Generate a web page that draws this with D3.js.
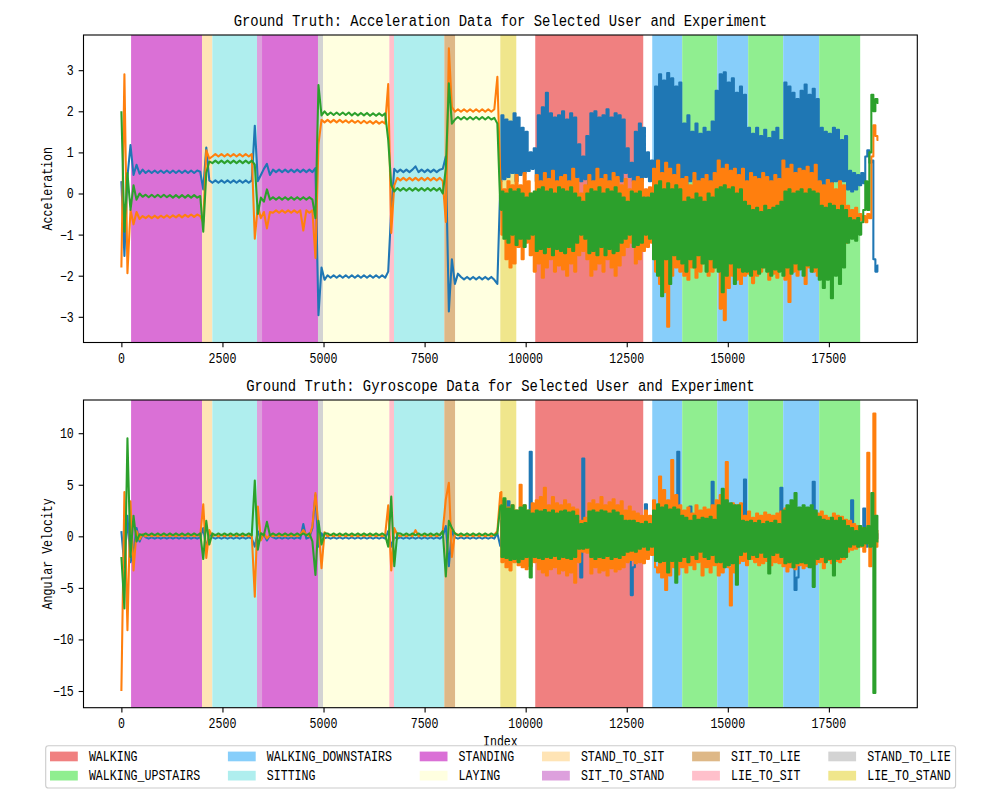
<!DOCTYPE html>
<html><head><meta charset="utf-8">
<script src="https://cdn.jsdelivr.net/npm/d3@7"></script>
<style>body{margin:0;background:#fff}</style>
</head><body><svg id="c" width="1000" height="800"></svg>
<script>
// quiet part (index 0..9300) sampled every QSTEP; active part from NOISY_START every NSTEP
const QSTEP = 75, NOISY_START = 9375, NSTEP = 50;

const accXQuiet = [0.3,-1.52,0.4,1.18,0.45,0.7,0.48,0.58,0.5,0.56,
 0.5,0.56,0.5,0.56,0.5,0.56,0.5,0.56,0.5,0.56,
 0.5,0.56,0.5,0.56,0.5,0.56,0.53,0.1,1.12,0.32,
 0.26,0.32,0.26,0.32,0.26,0.32,0.26,0.32,0.26,0.32,
 0.26,0.32,0.26,0.32,1.65,0.3,0.45,0.6,0.72,0.45,
 0.58,0.52,0.58,0.52,0.58,0.52,0.58,0.52,0.58,0.52,
 0.58,0.52,0.58,0.52,0.62,-2.96,-1.8,-2.1,-1.99,-2.05,
 -1.99,-2.05,-1.99,-2.05,-1.99,-2.05,-1.99,-2.05,-1.99,-2.05,
 -1.99,-2.05,-1.99,-2.05,-1.99,-2.05,-1.99,-2.05,-1.9,-0.4,
 0.6,0.52,0.58,0.52,0.58,0.52,0.58,0.66,0.52,0.58,
 0.52,0.58,0.52,0.58,0.52,0.58,0.6,0.9,-2.87,-1.6,
 -2.2,-1.95,-2.03,-2.09,-2.03,-2.09,-2.03,-2.09,-2.03,-2.09,
 -2.03,-2.09,-2.03,-2.1,-2.2];
const accXActive = [0.3,1.9,0.35,1.8,0.4,1.75,0.5,1.95,0.3,1.85,
 0.45,1.6,0.5,1.5,0.55,1.0,0.6,1.1,0.3,1.9,
 0.25,2.1,0.2,2.45,0.3,1.95,0.2,1.85,0.3,1.9,
 0.15,2.0,0.3,1.8,0.2,1.95,0.25,1.85,0.4,1.2,
 0.3,0.9,0.35,1.4,0.2,1.95,0.25,2.0,0.35,1.85,
 0.15,1.9,0.3,2.05,0.25,1.85,0.2,1.95,0.35,1.9,
 0.3,1.8,0.5,1.1,0.4,0.75,0.3,1.5,0.25,1.7,
 0.3,1.6,0.4,1.0,0.3,0.8,0.0,2.6,0.1,2.9,
 0.2,2.75,0.05,2.93,0.15,2.8,0.1,2.6,0.2,2.7,
 0.3,1.7,0.2,1.9,0.3,1.5,0.35,1.7,0.2,1.45,
 0.3,1.6,0.25,1.5,0.3,1.75,0.2,2.5,0.05,2.9,
 0.2,2.95,0.1,2.7,0.15,2.8,0.2,2.45,0.1,2.6,
 0.3,2.4,0.2,1.6,0.35,1.45,0.25,1.6,0.3,1.4,
 0.2,1.55,0.3,1.35,0.25,1.5,0.2,1.6,0.1,1.3,
 0.05,2.7,0.2,2.6,0.1,2.45,0.15,2.3,0.2,2.5,
 0.1,2.65,0.15,2.4,0.2,2.55,0.1,2.3,0.3,1.6,
 0.2,1.5,0.35,1.45,0.25,1.6,0.3,1.55,0.2,1.3,
 0.3,1.4,0.1,0.55,0.05,0.5,0.1,0.45,0.2,0.5,
 0.25,0.9,1.05,0.75,0.8,-1.6,-1.9,-1.75];

const accYQuiet = [-1.8,2.9,-1.94,-0.4,-0.75,-0.45,-0.62,-0.55,-0.6,-0.54,
 -0.6,-0.54,-0.6,-0.54,-0.59,-0.53,-0.59,-0.53,-0.58,-0.52,
 -0.58,-0.52,-0.57,-0.51,-0.57,-0.51,-0.55,-0.7,1.05,0.85,
 0.9,0.96,0.9,0.96,0.9,0.96,0.9,0.96,0.9,0.96,
 0.9,0.96,0.9,0.96,-1.1,-0.3,-0.6,-0.45,-0.85,-0.45,
 -0.47,-0.41,-0.47,-0.41,-0.47,-0.41,-0.47,-0.41,-0.47,-0.41,
 -0.9,-0.41,-0.47,-0.41,-1.57,1.2,1.79,1.73,1.79,1.73,
 1.79,1.73,1.79,1.73,1.78,1.72,1.78,1.72,1.77,1.71,
 1.77,1.71,1.76,1.7,1.76,1.7,1.75,1.7,2.66,-0.96,
 0.2,0.38,0.32,0.38,0.32,0.38,0.32,0.38,0.32,0.38,
 0.32,0.38,0.32,0.38,0.32,0.38,0.3,-0.69,3.53,2.1,
 1.99,2.05,1.99,2.05,1.99,2.05,1.99,2.05,1.99,2.05,
 1.99,2.05,1.99,2.05,2.84];
const accYActive = [0.3,-1.0,0.1,-1.6,0.3,-1.8,0.2,-1.7,0.45,-1.3,
 0.2,-1.6,0.5,-1.2,0.3,-1.5,0.0,-1.9,0.45,-1.7,
 0.3,-2.05,0.5,-1.8,0.35,-1.6,0.55,-1.9,0.3,-1.75,
 0.4,-1.85,0.45,-2.0,0.3,-1.7,0.6,-1.9,0.35,-1.5,
 0.0,-1.4,0.2,-1.6,0.45,-2.0,0.3,-1.85,0.6,-1.7,
 0.35,-1.9,0.45,-1.6,0.3,-1.8,0.5,-2.0,0.4,-1.75,
 0.2,-1.5,0.35,-1.3,0.1,-1.2,0.3,-1.7,0.4,-1.6,
 0.35,-1.4,0.1,-1.3,0.15,-1.2,0.6,-1.9,0.8,-2.2,
 0.5,-2.4,0.75,-3.24,0.6,-2.0,0.45,-1.8,0.7,-1.9,
 0.35,-2.0,0.4,-2.1,0.2,-1.8,0.5,-2.05,0.3,-1.9,
 0.35,-1.7,0.45,-2.0,0.3,-1.9,0.5,-1.8,0.8,-2.8,
 0.6,-3.08,0.7,-2.3,0.55,-2.0,0.6,-2.1,0.45,-2.2,
 0.6,-2.0,0.3,-1.95,0.5,-2.18,0.4,-2.0,0.35,-1.9,
 0.5,-1.8,0.4,-2.1,0.3,-1.95,0.45,-2.05,0.35,-1.8,
 0.8,-2.1,0.6,-2.64,0.7,-1.9,0.5,-2.0,0.6,-1.7,
 0.55,-2.2,0.65,-1.8,0.5,-1.9,0.7,-2.0,0.3,-1.4,
 0.2,-1.2,0.33,-1.3,0.25,-1.5,0.1,-1.1,0.3,-1.35,
 0.2,-1.2,-0.3,-0.8,-0.4,-0.9,-0.35,-0.85,-0.5,-0.65,
 -0.55,-0.7,-0.5,-0.6,0.9,1.66,1.4,1.3];

const accZQuiet = [2.0,-0.93,0.5,-0.4,0.2,-0.15,0.0,-0.08,-0.03,-0.09,
 -0.03,-0.09,-0.03,-0.09,-0.03,-0.09,-0.04,-0.1,-0.04,-0.1,
 -0.04,-0.1,-0.04,-0.1,-0.04,-0.1,-0.06,-0.93,0.5,0.78,
 0.74,0.8,0.74,0.8,0.74,0.8,0.74,0.8,0.74,0.8,
 0.74,0.8,0.74,0.8,0.7,-0.5,-0.1,-0.2,0.1,-0.15,
 -0.09,-0.15,-0.09,-0.15,-0.09,-0.15,-0.09,-0.15,-0.09,-0.15,
 -0.09,-0.15,-0.09,-0.15,-0.6,2.64,1.9,2.0,1.91,1.97,
 1.91,1.97,1.91,1.97,1.91,1.97,1.9,1.96,1.9,1.96,
 1.9,1.96,1.89,1.95,1.89,1.95,1.89,1.95,1.3,0.2,
 0.05,0.13,0.07,0.13,0.07,0.13,0.07,0.13,0.07,0.13,
 0.07,0.13,0.07,0.13,0.07,0.13,0.0,0.6,2.68,1.7,
 1.8,1.86,1.8,1.86,1.8,1.86,1.8,1.86,1.8,1.86,
 1.8,1.86,1.8,1.84,1.7];
const accZActive = [-0.4,0.05,-1.1,0.0,-1.2,0.1,-1.0,0.05,-1.25,0.1,
 -1.1,0.0,-1.3,-0.1,-1.1,0.0,-1.0,0.05,-1.4,0.1,
 -1.35,0.15,-1.45,0.05,-1.3,0.1,-1.5,0.0,-1.35,0.15,
 -1.4,0.1,-1.45,0.05,-1.3,0.15,-1.4,0.0,-1.2,-0.1,
 -1.0,-0.2,-1.1,0.0,-1.45,0.1,-1.4,0.05,-1.5,0.15,
 -1.3,0.0,-1.5,0.1,-1.35,0.05,-1.45,0.15,-1.4,0.0,
 -1.2,-0.1,-1.1,-0.2,-1.0,0.05,-1.3,0.0,-1.25,0.05,
 -1.2,-0.1,-1.0,-0.1,-1.1,0.0,-1.6,0.2,-2.0,0.3,
 -2.5,0.1,-1.6,0.25,-2.2,0.1,-1.5,0.2,-1.6,0.1,
 -1.7,-0.2,-1.9,-0.1,-1.6,-0.15,-1.8,0.0,-1.5,-0.1,
 -1.7,-0.2,-1.9,0.0,-1.6,-0.1,-1.8,0.1,-1.9,0.15,
 -2.4,0.2,-2.0,0.1,-1.7,0.15,-2.2,0.0,-1.8,0.1,
 -1.9,-0.2,-1.9,-0.3,-2.0,-0.4,-1.85,-0.35,-1.95,-0.45,
 -1.8,-0.3,-1.9,-0.4,-2.0,-0.35,-1.85,-0.3,-1.9,-0.2,
 -2.0,0.05,-1.8,0.1,-1.95,0.0,-1.7,0.05,-1.85,0.1,
 -2.0,0.0,-1.75,0.1,-1.9,0.05,-1.8,0.0,-2.1,-0.3,
 -2.3,-0.35,-2.1,-0.25,-2.55,-0.3,-2.0,-0.4,-2.2,-0.3,
 -1.8,-0.4,-1.2,-0.6,-1.1,-0.65,-1.15,-0.6,-1.0,-0.7,
 -0.4,0.3,-0.4,1.0,2.4,2.0,2.3,2.2];

const gyroXQuiet = [0.5,-3,2,-2.5,-1.5,0.8,-0.5,0.2,-0.1,-0.22,
 -0.1,-0.22,-0.1,-0.22,-0.1,-0.22,-0.1,-0.22,-0.1,-0.22,
 -0.1,-0.22,-0.1,-0.22,-0.1,-0.22,-0.1,0.8,-1.2,0.3,
 -0.1,-0.22,-0.1,-0.22,-0.1,-0.22,-0.1,-0.22,-0.1,-0.22,
 -0.1,-0.22,-0.1,-0.22,-1.0,0.5,-0.3,0.2,-0.4,0.1,
 -0.1,-0.22,-0.1,-0.22,-0.1,-0.22,-0.1,-0.22,-0.1,-0.22,
 1.2,-0.22,-0.1,0.8,4.0,-1.0,0.3,-0.2,-0.1,-0.22,
 -0.1,-0.22,-0.1,-0.22,-0.1,-0.22,-0.1,-0.22,-0.1,-0.22,
 -0.1,-0.22,-0.1,-0.22,-0.1,-0.22,-0.1,-0.22,0.5,-1.0,
 -0.1,-0.22,-0.1,-0.22,-0.1,-0.22,-0.1,-0.22,-0.1,-0.22,
 -0.1,-0.22,-0.1,-0.22,-0.1,-0.22,0.0,1.0,-2.9,0.5,
 -0.1,-0.22,-0.1,-0.22,-0.1,-0.22,-0.1,-0.22,-0.1,-0.22,
 -0.1,-0.22,-0.1,-0.22,0.3];
const gyroXActive = [-1.0,1.5,-1.5,2.0,3.4,-1.2,1.5,-1.5,1.2,-1.2,
 1.4,-1.6,1.2,-1.5,1.0,8.2,-1.5,1.5,-1.8,1.6,
 -1.7,1.8,-1.6,1.5,-1.8,1.7,-1.5,1.6,-1.7,1.5,
 -1.6,1.4,-1.8,1.6,-1.5,1.7,-1.6,1.5,-1.4,1.2,
 -4.0,7.55,-1.0,1.0,-1.5,1.5,-1.6,1.8,-1.7,1.5,
 -1.8,1.6,-1.5,1.7,-1.6,1.5,-1.8,1.4,-1.5,1.6,
 -1.5,1.4,-1.2,1.0,-2.0,-5.7,-3.0,1.0,-1.0,1.2,
 -1.0,1.5,3.1,-1.0,1.2,-1.5,2.0,-2.0,1.8,-2.0,
 2.2,-2.5,1.8,-2.0,2.0,-2.2,1.5,-3.0,8.2,-1.8,
 1.5,-1.8,1.5,-1.5,2.9,-1.5,1.5,-1.8,1.6,-1.5,
 1.8,-1.5,1.6,-1.4,1.8,5.3,-1.5,1.8,-2.0,2.0,
 -2.2,2.0,-2.5,1.8,-2.0,2.2,-1.8,2.0,-2.0,1.8,
 -1.5,5.5,-1.5,1.2,-1.5,1.4,-1.6,1.2,-1.8,1.5,
 -1.5,1.2,-1.6,1.4,-1.5,1.3,-1.4,1.5,-1.2,4.7,
 -1.5,1.8,-2.0,1.5,-2.2,1.6,-5.2,-4.0,1.8,-2.0,
 1.5,-1.8,2.0,-1.6,1.8,5.3,-1.5,1.5,-1.8,1.2,
 -1.5,1.6,-1.4,1.5,-1.5,1.2,-1.3,1.4,-1.2,1.0,
 -1.0,0.8,-0.8,1.0,3.5,-0.8,0.8,-0.5,0.6,-0.4,
 2.7,-1.0,0.5,0.0,0.3,0.2,-0.2,0.2];

const gyroYQuiet = [-15,4.3,-9.1,3.4,-3.3,0.5,-0.3,0.2,0.0,0.15,
 0.0,0.15,0.0,0.15,0.0,0.15,0.0,0.15,0.0,0.15,
 0.0,0.15,0.0,0.15,0.0,0.15,0.0,3.1,-2.1,0.6,
 0.0,0.15,0.0,0.15,0.0,0.15,0.0,0.15,0.0,0.15,
 0.0,0.15,0.0,0.15,-5.85,2.9,-0.4,0.3,-0.2,0.15,
 0.0,0.15,0.0,0.15,0.0,0.15,0.0,0.15,0.0,0.15,
 0.6,0.15,0.0,1.0,4.2,1.0,-3.1,0.4,0.0,0.15,
 0.0,0.15,0.0,0.15,0.0,0.15,0.0,0.15,0.0,0.15,
 0.0,0.15,0.0,0.15,0.0,0.15,0.0,0.15,3.0,-3.3,
 0.8,0.15,0.0,0.15,0.0,0.15,0.0,0.6,0.0,0.15,
 0.0,0.15,0.0,0.15,0.0,0.15,0.5,3.6,5.2,-2.0,
 0.3,0.15,0.0,0.15,0.0,0.15,0.0,0.15,0.0,0.15,
 0.0,0.15,0.0,0.15,0.5];
const gyroYActive = [4.3,-2.5,3.5,-3.0,2.8,-3.3,3.0,-2.5,2.5,-2.8,
 5.0,-3.0,3.0,-3.2,2.5,-2.9,3.2,-2.5,3.5,-3.2,
 3.8,-3.5,4.7,-3.8,3.0,-3.2,3.8,-3.0,3.2,-3.6,
 3.0,-3.3,3.5,-3.8,3.1,-3.5,2.8,-4.5,2.6,-2.5,
 1.5,-1.5,1.8,-1.6,3.2,-3.6,3.5,-3.0,3.1,-3.5,
 3.8,-3.3,3.0,-3.8,3.3,-3.1,3.6,-3.4,3.0,-3.2,
 3.4,-3.0,2.5,-2.5,2.9,-2.3,2.4,-2.6,2.2,-2.5,
 2.0,-2.6,2.5,-2.2,2.0,-1.8,3.5,-3.0,-3.5,5.8,
 -4.0,4.5,-5.2,3.5,-3.8,7.4,-3.0,4.0,-3.7,3.0,
 -3.0,2.5,-3.5,2.8,-2.8,2.2,-3.2,3.0,-2.5,2.5,
 -3.8,2.8,-3.0,2.6,-3.5,3.0,-2.8,3.5,-3.8,4.0,
 -3.5,3.5,7.2,-3.0,-6.7,3.2,-3.5,3.0,-2.6,3.2,
 -2.4,2.0,-2.8,2.4,-2.2,1.8,-2.5,2.2,-2.8,2.0,
 -2.6,2.3,-2.4,2.1,-2.8,2.0,-2.5,2.2,-2.6,2.4,
 -2.9,2.7,-3.4,2.4,-3.0,2.6,-3.2,2.2,-2.8,2.1,
 -3.1,2.5,-2.9,2.3,-3.0,2.4,-2.7,2.2,-2.5,2.4,
 -3.1,2.0,-2.3,1.8,-2.6,2.2,-2.4,2.0,-2.5,1.9,
 -2.2,1.6,-1.5,1.5,-1.3,1.2,-1.2,1.0,-1.0,0.8,
 -1.5,0.6,8.1,-2.9,1.0,11.9,-1.0,0.5];

const gyroZQuiet = [-2,-7,9.5,-2,2,-0.5,0.2,0.1,0.28,0.1,
 0.28,0.1,0.28,0.1,0.28,0.1,0.28,0.1,0.28,0.1,
 0.28,0.1,0.28,0.1,0.28,0.1,0.28,-2.2,1.5,-0.8,
 0.28,0.1,0.28,0.1,0.28,0.1,0.28,0.1,0.28,0.1,
 0.28,0.1,0.28,0.1,5.4,-1.3,0.3,0.1,1.4,0.1,
 0.28,0.1,0.28,0.1,0.28,0.1,0.28,0.1,0.28,0.1,
 0.28,0.1,0.28,-0.5,-3.75,1.5,-0.8,0.3,0.28,0.1,
 0.28,0.1,0.28,0.1,0.28,0.1,0.28,0.1,0.28,0.1,
 0.28,0.1,0.28,0.1,0.28,0.1,0.28,0.1,-1.0,3.85,
 -2.9,0.3,0.28,0.1,0.28,0.1,0.28,0.1,0.28,0.1,
 0.28,0.1,0.28,0.1,0.28,0.1,0.5,-3.9,1.5,0.8,
 0.28,0.1,0.28,0.1,0.28,0.1,0.28,0.1,0.28,0.1,
 0.28,0.1,0.28,0.1,0.3];
const gyroZActive = [3.0,-2.0,3.7,-2.1,2.7,-2.3,3.0,-2.2,2.5,-2.5,
 2.8,-2.2,3.0,-2.0,2.5,-4.0,2.2,-2.0,2.5,-2.1,
 2.4,-2.2,2.55,-2.0,2.3,-2.1,2.5,-1.9,2.2,-2.2,
 2.4,-2.0,2.5,-2.1,2.3,-2.2,2.4,-2.0,2.0,-1.2,
 1.2,-1.2,1.3,-1.1,2.4,-2.0,2.5,-2.2,2.3,-2.0,
 2.5,-2.1,2.4,-1.9,2.2,-2.2,2.5,-2.0,2.3,-2.1,
 2.0,-1.8,1.5,-1.5,1.5,-1.4,1.5,-1.5,1.3,-1.2,
 1.2,-1.0,1.4,-1.3,1.2,-1.0,2.5,-2.4,3.1,-2.5,
 2.8,-2.4,3.0,-3.5,2.6,-2.4,2.8,-4.5,2.6,-2.4,
 2.0,-2.0,1.8,-2.5,1.5,-1.8,2.0,-2.2,1.6,-1.5,
 1.8,-2.0,1.7,-2.2,1.9,-1.8,1.6,-2.5,3.0,-2.5,
 4.6,-3.0,3.5,-2.8,3.2,-2.6,3.0,-4.7,3.0,-1.8,
 1.5,-1.5,1.4,-2.2,1.5,-1.8,1.3,-2.0,1.5,-1.6,
 1.2,-2.0,1.4,-3.6,1.3,-1.8,1.5,-1.6,1.2,-2.0,
 2.5,-2.6,3.0,-2.5,3.5,-3.0,4.2,-2.6,2.8,-2.5,
 3.0,-2.6,2.8,-3.0,3.0,-4.9,2.5,-2.2,1.9,-2.0,
 1.6,-2.5,1.5,-2.2,1.8,-3.8,1.5,-2.2,1.8,-2.0,
 1.5,-2.0,1.0,-1.0,0.8,-0.8,0.5,-1.0,1.0,-0.9,
 0.8,-0.7,1.0,-1.0,4.2,-15.2,2.0,-0.5];

const activityNames = ["WALKING","WALKING_UPSTAIRS","WALKING_DOWNSTAIRS","SITTING","STANDING","LAYING",
  "STAND_TO_SIT","SIT_TO_STAND","SIT_TO_LIE","LIE_TO_SIT","STAND_TO_LIE","LIE_TO_STAND"];
const activityColors = ["#f08080","#90ee90","#87cefa","#afeeee","#da70d6","#ffffe0",
  "#ffe4b5","#dda0dd","#deb887","#ffc0cb","#d3d3d3","#f0e68c"];
const spanActivity = ["STANDING","STAND_TO_SIT","SITTING","SIT_TO_STAND","STANDING","STAND_TO_LIE","LAYING",
  "LIE_TO_SIT","SITTING","SIT_TO_LIE","LAYING","LIE_TO_STAND","WALKING","WALKING_DOWNSTAIRS",
  "WALKING_UPSTAIRS","WALKING_DOWNSTAIRS","WALKING_UPSTAIRS","WALKING_DOWNSTAIRS","WALKING_UPSTAIRS"];
const spanStart = [240,1995,2250,3355,3479,4863,4987,6627,6743,7987,8259,9372,10237,13131,13872,14738,15504,16370,17260];
const spanEnd   = [1995,2250,3355,3479,4863,4987,6627,6743,7987,8259,9372,9768,12908,13872,14738,15504,16370,17260,18274];

const xTicks = [0,2500,5000,7500,10000,12500,15000,17500];
const accTicks = [-3,-2,-1,0,1,2,3];
const gyroTicks = [-15,-10,-5,0,5,10];
const seriesColors = ["#1f77b4","#ff7f0e","#2ca02c"];

const svg = d3.select("#c");
const FONT = "'Liberation Mono','DejaVu Sans Mono',monospace";
function txt(g, x, y, s, size, anchor, rot) {
  const t = g.append("text").attr("x", x).attr("y", y).text(s)
    .attr("font-family", FONT).attr("font-size", size).attr("fill", "#000")
    .attr("text-anchor", anchor || "start")
    .attr("textLength", s.length * size * 0.5).attr("lengthAdjust", "spacingAndGlyphs");
  if (rot) t.attr("transform", `rotate(${rot},${x},${y})`);
  return t;
}
const colorOf = d3.scaleOrdinal(activityNames, activityColors);

const L = 83.5, R = 917.3;
const x = d3.scaleLinear().domain([-937, 19687]).range([L, R]);

function panel(top, bottom, yDomain, yTicks, series, title, ylabel, id) {
  const y = d3.scaleLinear().domain(yDomain).range([bottom, top]);
  const g = svg.append("g");
  g.append("clipPath").attr("id", id).append("rect")
    .attr("x", L).attr("y", top).attr("width", R - L).attr("height", bottom - top);
  const body = g.append("g").attr("clip-path", `url(#${id})`);
  body.selectAll("rect.span").data(spanStart).join("rect")
    .attr("x", (d) => x(d)).attr("width", (d, i) => x(spanEnd[i]) - x(d))
    .attr("y", top).attr("height", bottom - top)
    .attr("fill", (d, i) => colorOf(spanActivity[i]));
  const lineQ = d3.line().x((d) => x(d[0])).y((d) => y(d[1]));
  const lineA = d3.line().curve(d3.curveStep).x((d) => x(d[0])).y((d) => y(d[1]));
  series.forEach(([quiet, active], k) => {
    const q = quiet.map((v, i) => [i * QSTEP, v]);
    const a = active.map((v, j) => [NOISY_START + j * NSTEP, v]);
    const sg = body.append("g").attr("fill", "none").attr("stroke", seriesColors[k])
      .attr("stroke-width", 2.08).attr("stroke-linejoin", "round");
    sg.append("path").attr("d", lineQ(q.concat([a[0]])));
    sg.append("path").attr("d", lineA(a));
  });
  const xa = g.append("g").attr("transform", `translate(0,${bottom})`)
    .call(d3.axisBottom(x).tickValues(xTicks).tickSize(4.86).tickFormat(""));
  const ya = g.append("g").attr("transform", `translate(${L},0)`)
    .call(d3.axisLeft(y).tickValues(yTicks).tickSize(4.86).tickFormat(""));
  [xa, ya].forEach((a) => { a.select(".domain").remove(); a.selectAll("line").attr("stroke", "#000").attr("stroke-width", 1.1); });
  xTicks.forEach((v) => txt(g, x(v), bottom + 20.3, String(v), 13.9, "middle"));
  yTicks.forEach((v) => txt(g, L - 9.7, y(v) + 4.9, (v < 0 ? "\u2212" : "") + Math.abs(v), 13.9, "end"));
  g.append("rect").attr("x", L).attr("y", top).attr("width", R - L).attr("height", bottom - top)
    .attr("fill", "none").attr("stroke", "#000").attr("stroke-width", 1.1);
  txt(g, (L + R) / 2, top - 9, title, 16.67, "middle");
  txt(g, 52, (top + bottom) / 2, ylabel, 13.9, "middle", -90);
}

panel(35, 342.5, [-3.625, 3.856], accTicks,
  [[accXQuiet, accXActive], [accYQuiet, accYActive], [accZQuiet, accZActive]],
  "Ground Truth: Acceleration Data for Selected User and Experiment", "Acceleration", "clipA");
panel(400, 707.7, [-16.62, 13.22], gyroTicks,
  [[gyroXQuiet, gyroXActive], [gyroYQuiet, gyroYActive], [gyroZQuiet, gyroZActive]],
  "Ground Truth: Gyroscope Data for Selected User and Experiment", "Angular Velocity", "clipG");

txt(svg, (L + R) / 2, 746, "Index", 13.9, "middle");

// legend (6 columns, column-major)
const fs = 13.9, handleW = 27.8, pad = 11.1, colSp = 27.8;
const lg = svg.append("g");
const nCol = 6;
const colX = [];
let cx = 50;
for (let c = 0; c < nCol; c++) {
  colX.push(cx);
  const w = d3.max([activityNames[2 * c], activityNames[2 * c + 1]], (s) => s.length * fs * 0.5);
  cx += handleW + pad + w + colSp;
}
lg.append("rect").attr("x", 45.7).attr("y", 745.7).attr("width", cx - colSp + 5 - 45.7).attr("height", 42.3)
  .attr("rx", 2.8).attr("fill", "#fff").attr("fill-opacity", 0.8).attr("stroke", "#cccccc").attr("stroke-width", 1.1);
activityNames.forEach((name, k) => {
  const c = Math.floor(k / 2), r = k % 2;
  const yc = 756.2 + r * 19.2;
  lg.append("rect").attr("x", colX[c]).attr("y", yc - 4.6).attr("width", handleW).attr("height", 9.7)
    .attr("fill", activityColors[k]);
  txt(lg, colX[c] + handleW + pad, yc + 4.9, name, fs, "start");
});
</script></body></html>
